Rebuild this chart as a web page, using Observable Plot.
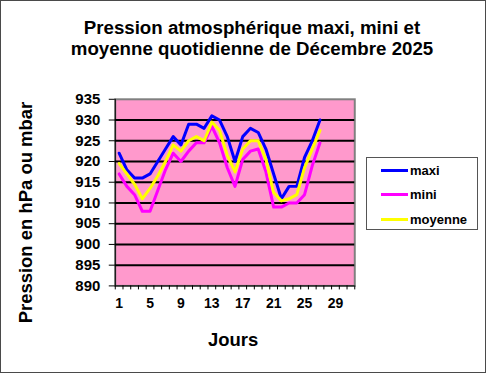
<!DOCTYPE html>
<html>
<head>
<meta charset="utf-8">
<script src="https://cdn.jsdelivr.net/npm/d3@7"></script>
<script src="https://cdn.jsdelivr.net/npm/@observablehq/plot@0.6"></script>
<style>
  html, body { margin: 0; padding: 0; background: #fff; }
  #wrap { position: relative; width: 486px; height: 373px; box-sizing: border-box; border: 1px solid #4a4a4a; background: #fff; overflow: hidden; font-family: "Liberation Sans", Arial, sans-serif; }
  #title { position: absolute; left: 0; top: 16px; width: 502px; text-align: center; font-weight: bold; font-size: 18.7px; line-height: 21px; color: #000; }
  #chart { position: absolute; left: -1px; top: -1px; }
  #legend { position: absolute; left: 365px; top: 156px; width: 110px; height: 71px; border: 1px solid #555; background: #fff; }
  .item { position: absolute; left: 14px; height: 14px; font-weight: bold; font-size: 13px; line-height: 14px; }
  .sw { display: inline-block; width: 27px; height: 3px; vertical-align: middle; margin-right: 2px; position: relative; top: -1px; }
</style>
</head>
<body>
<div id="wrap">
  <div id="title">Pression atmosphérique maxi, mini et<br>moyenne quotidienne de Décembre 2025</div>
  <div id="chart"></div>
  <div id="legend"></div>
</div>
<script>
const days = [1,2,3,4,5,6,7,8,9,10,11,12,13,14,15,16,17,18,19,20,21,22,23,24,25,26,27];
const maxi = [922,918,916,916,917,920,923,926,924,929,929,928,931,930,926,920,926,928,927,923,917,911,914,914,921,925,930];
const mini = [917,914,912,908,908,913,918,922,920,922.5,924.5,924.5,928.5,924.5,918.5,914,920.5,922.5,923,917.5,909,909,910,910,912,919,924.5];
const moyenne = [919.5,917,914.5,911,913.5,916.5,920,924,922.5,925,926,925,929.5,927.5,921.5,917.5,923,925,925,920.5,912.5,910.5,911,912,918.5,923,927.5];
const seriesNames = ["maxi", "mini", "moyenne"];
const seriesColors = ["#0000FF", "#FF00FF", "#FFFF00"];
const monthDays = 31;
const xTickLabels = [1,5,9,13,17,21,25,29];
const yTicks = [890,895,900,905,910,915,920,925,930,935];
const gridValues = [895,900,905,910,915,920,925,930];
const titleText = "Pression atmosphérique maxi, mini et moyenne quotidienne de Décembre 2025";
const yTitle = "Pression en hPa ou mbar";
const xTitle = "Jours";

const values = {maxi, mini, moyenne};
const data = seriesNames.flatMap(s => days.map((d, i) => ({day: d, value: values[s][i], series: s})));
const catBounds = d3.range(0, monthDays + 1).map(k => k + 0.5);

const chart = Plot.plot({
  width: 486,
  height: 373,
  marginLeft: 115,
  marginRight: 131,
  marginTop: 99,
  marginBottom: 87,
  style: {fontFamily: "'Liberation Sans', Arial, sans-serif", fontWeight: "bold", background: "transparent", color: "#000", overflow: "visible"},
  x: {type: "linear", domain: [0.5, monthDays + 0.5], axis: null},
  y: {domain: [890, 935], axis: null},
  color: {domain: seriesNames, range: seriesColors},
  marks: [
    Plot.frame({fill: "#FF99CC", stroke: "#808080", strokeWidth: 2}),
    Plot.ruleY(gridValues, {stroke: "#000", strokeWidth: 2}),
    Plot.ruleX([0.5], {stroke: "#000", strokeWidth: 1}),
    Plot.ruleY([890], {stroke: "#000", strokeWidth: 1}),
    Plot.axisY({ticks: yTicks, tickSize: 6, tickPadding: 9, fontSize: 15, fontWeight: "bold", label: null, tickFormat: d => String(d)}),
    Plot.axisX({ticks: catBounds, tickSize: 4, tickFormat: () => "", label: null}),
    Plot.axisX({ticks: xTickLabels, tickSize: 0, tickPadding: 12, fontSize: 14, fontWeight: "bold", label: null, tickFormat: d => String(d)}),
    Plot.line(data, {x: "day", y: "value", z: "series", stroke: "series", strokeWidth: 3}),
    Plot.text([yTitle], {frameAnchor: "left", dx: -89, dy: 20, rotate: -90, textAnchor: "middle", fontSize: 18.5, fontWeight: "bold", text: d => d}),
    Plot.text([xTitle], {frameAnchor: "bottom", dy: 60, dx: -2, textAnchor: "middle", fontSize: 18.5, fontWeight: "bold", text: d => d})
  ]
});
document.getElementById("chart").appendChild(chart);

const legend = document.getElementById("legend");
const rowTops = [6, 30, 55];
seriesNames.forEach((s, i) => {
  const it = document.createElement("div");
  it.className = "item";
  it.style.top = rowTops[i] + "px";
  const sw = document.createElement("span");
  sw.className = "sw";
  sw.style.background = seriesColors[i];
  it.appendChild(sw);
  it.appendChild(document.createTextNode(s));
  legend.appendChild(it);
});
</script>
</body>
</html>
